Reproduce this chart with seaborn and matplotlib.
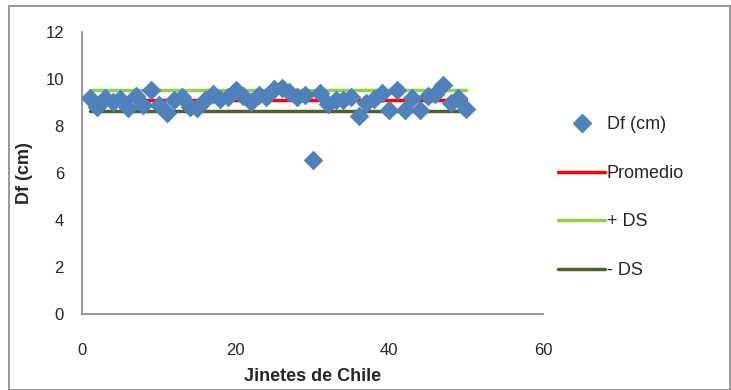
import matplotlib
matplotlib.use("Agg")
import matplotlib.pyplot as plt
import seaborn as sns
import pandas as pd
import numpy as np
from matplotlib.lines import Line2D
from matplotlib.patches import Rectangle

jinetes = list(range(1, 51))
df_cm = [9.21, 8.81, 9.20, 9.02, 9.16, 8.78, 9.26, 8.91, 9.55, 8.91,
         8.56, 9.09, 9.23, 8.81, 8.78, 9.09, 9.38, 9.16, 9.23, 9.52,
         9.26, 9.02, 9.30, 9.23, 9.59, 9.63, 9.45, 9.23, 9.30, 6.57,
         9.40, 8.92, 9.09, 9.09, 9.23, 8.41, 8.98, 9.16, 9.40, 8.70,
         9.52, 8.70, 9.20, 8.70, 9.26, 9.38, 9.73, 8.98, 9.19, 8.74]
promedio = 9.09
mas_ds = 9.55
menos_ds = 8.64
x_ticks = [0, 20, 40, 60]
y_ticks = [0, 2, 4, 6, 8, 10, 12]

sns.set_style("white")
plt.rcParams['font.family'] = ['Liberation Sans Narrow', 'Liberation Sans', 'DejaVu Sans']

fig = plt.figure(figsize=(7.31, 3.90), dpi=100)
ax = fig.add_axes([82/731, 1 - 314/390, (543-82)/731, (314-32)/390])

data = pd.DataFrame({"x": jinetes, "y": df_cm})
lines = pd.DataFrame({
    "x": [jinetes[0], jinetes[-1]] * 3,
    "y": [promedio, promedio, mas_ds, mas_ds, menos_ds, menos_ds],
    "s": ["Promedio", "Promedio", "+ DS", "+ DS", "- DS", "- DS"],
})
colors = {"Promedio": "#FF0000", "+ DS": "#92D050", "- DS": "#4F6228"}
sns.lineplot(data=lines, x="x", y="y", hue="s", palette=colors, linewidth=2.5,
             ax=ax, legend=False)
sns.scatterplot(data=data, x="x", y="y", marker="D", s=100, color="#4F81BD",
                edgecolor="#4F81BD", linewidth=0, ax=ax, zorder=3, legend=False)

ax.set_xlim(0, 60)
ax.set_ylim(0, 12)
ax.set_xticks(x_ticks)
ax.set_yticks(y_ticks)
ax.tick_params(axis='both', length=0, labelsize=12)
ax.tick_params(axis='y', pad=13)
ax.tick_params(axis='x', pad=21)
for s in ["top", "right"]:
    ax.spines[s].set_visible(False)
for s in ["left", "bottom"]:
    ax.spines[s].set_color("#868686")
    ax.spines[s].set_linewidth(1.2)
ax.set_xlabel("Jinetes de Chile", fontsize=13, fontweight="bold", labelpad=7)
ax.set_ylabel("Df (cm)", fontsize=13, fontweight="bold", labelpad=9)

handles = [
    Line2D([], [], linestyle="none", marker="D", markersize=9.5, color="#4F81BD"),
    Line2D([], [], color=colors["Promedio"], linewidth=2.5),
    Line2D([], [], color=colors["+ DS"], linewidth=2.5),
    Line2D([], [], color=colors["- DS"], linewidth=2.5),
]
labels = ["Df (cm)", "Promedio", "+ DS", "- DS"]
fig.legend(handles, labels, loc="upper left", bbox_to_anchor=(542/731, 1 - 100/390),
           frameon=False, fontsize=13, labelspacing=1.75, handlelength=2.6,
           handletextpad=0.1)

fig.patches.append(Rectangle((9/731, 0), 1 - 9/731 - 0.001, 1 - 6/390,
                             transform=fig.transFigure, fill=False,
                             edgecolor="#868686", linewidth=1.2))
fig.savefig("out.png", dpi=100)
